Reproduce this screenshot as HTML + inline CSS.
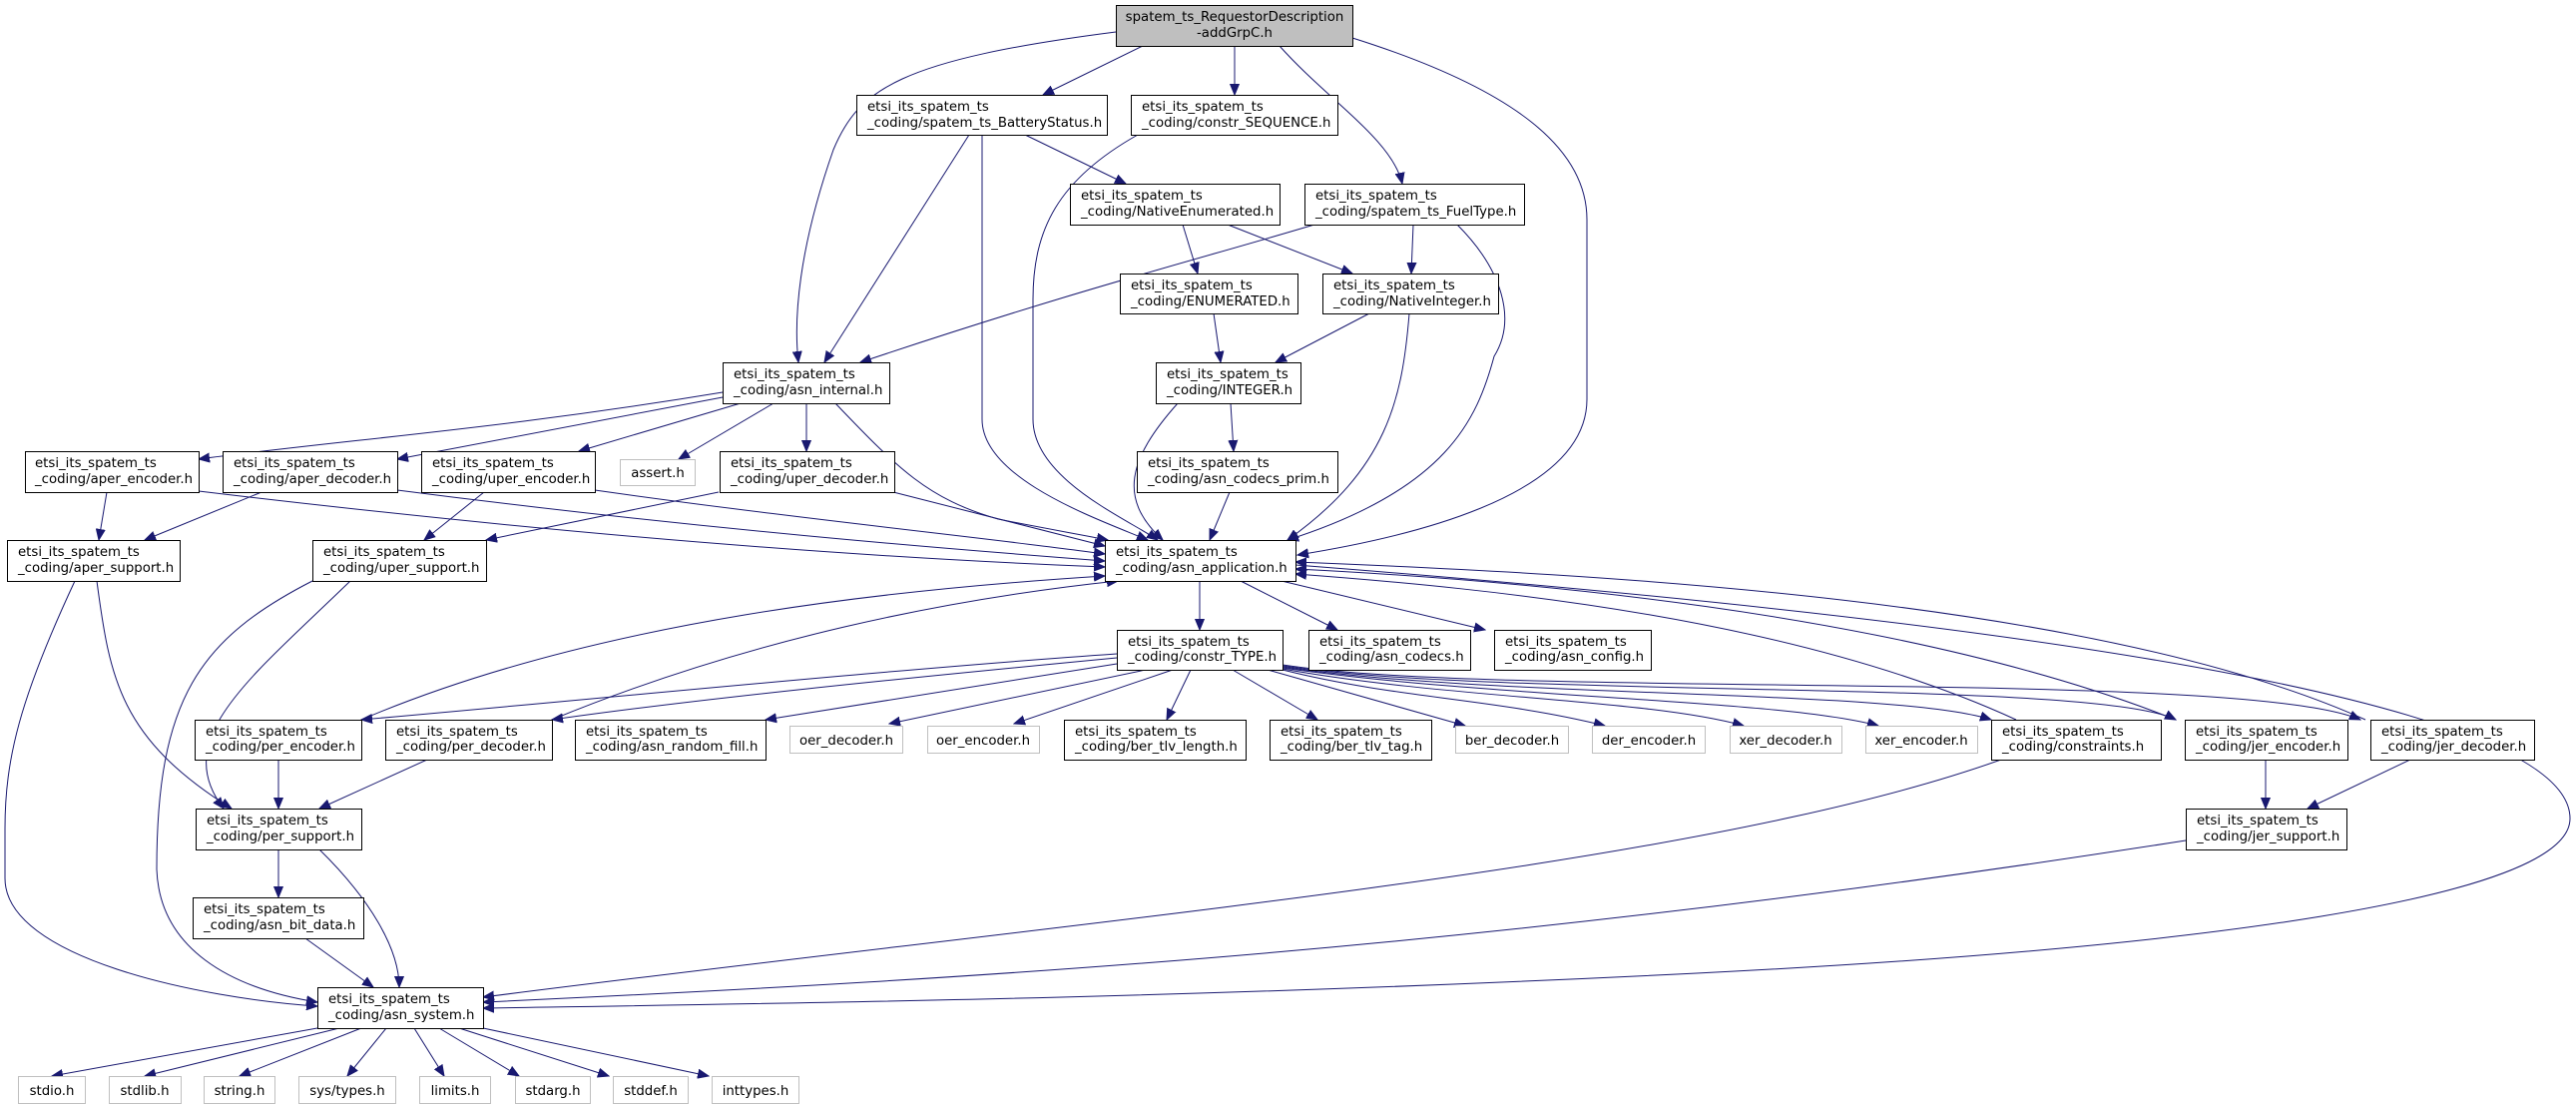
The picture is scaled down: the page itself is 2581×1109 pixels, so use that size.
<!DOCTYPE html>
<html><head><meta charset="utf-8"><style>
html,body{margin:0;padding:0;background:#fff;}
svg{display:block;}
text{font-family:"DejaVu Sans","Liberation Sans",sans-serif;font-size:13.3px;fill:#000;}
.b{fill:#fff;stroke:#000;stroke-width:1;}
.g{fill:#fff;stroke:#bfbfbf;stroke-width:1;}
.e{fill:none;stroke:#191970;stroke-width:1;}
</style></head><body>
<svg width="2581" height="1109" viewBox="0 0 2581 1109" xmlns="http://www.w3.org/2000/svg">
<defs><marker id="a" markerWidth="12" markerHeight="10" refX="11" refY="5" orient="auto" markerUnits="userSpaceOnUse"><path d="M0,0.5 L11,5 L0,9.5 z" fill="#191970" stroke="#191970"/></marker></defs>
<g marker-end="url(#a)">
<path class="e" d="M1145,46 L1045,95"/>
<path class="e" d="M1237,46 L1237,95"/>
<path class="e" d="M1282,46 C1330,100 1395,140 1405,184"/>
<path class="e" d="M1118,32 C900,60 860,90 835,150 C800,250 795,320 800,363"/>
<path class="e" d="M1355,38 C1520,90 1590,150 1590,220 L1590,400 C1590,500 1400,540 1300,556"/>
<path class="e" d="M971,135 L826,363"/>
<path class="e" d="M984,135 L984,420 C984,480 1100,520 1150,541"/>
<path class="e" d="M1027,135 L1128,184"/>
<path class="e" d="M1140,135 C1060,180 1035,230 1035,300 L1035,420 C1035,480 1130,520 1160,541"/>
<path class="e" d="M1185,225 L1200,274"/>
<path class="e" d="M1230,225 L1355,274"/>
<path class="e" d="M1317,225 C1200,260 1080,290 862,363"/>
<path class="e" d="M1416,225 L1414,274"/>
<path class="e" d="M1460,225 C1505,270 1520,320 1497,357 C1480,420 1450,490 1290,541"/>
<path class="e" d="M1216,314 L1223,363"/>
<path class="e" d="M1372,314 L1278,363"/>
<path class="e" d="M1412,314 C1405,400 1390,470 1290,541"/>
<path class="e" d="M1180,404 C1130,460 1120,500 1165,541"/>
<path class="e" d="M1233,404 L1236,452"/>
<path class="e" d="M1232,493 L1212,541"/>
<path class="e" d="M724,393 C500,430 350,440 199,460"/>
<path class="e" d="M724,398 L398,460"/>
<path class="e" d="M742,404 L580,452"/>
<path class="e" d="M775,404 L680,460"/>
<path class="e" d="M808,404 L808,452"/>
<path class="e" d="M837,404 C900,470 930,500 1000,520 C1050,530 1080,535 1110,541"/>
<path class="e" d="M107,493 L99,541"/>
<path class="e" d="M199,492 C600,540 900,560 1107,568"/>
<path class="e" d="M262,493 L145,541"/>
<path class="e" d="M398,491 C700,530 950,550 1107,562"/>
<path class="e" d="M485,493 L425,541"/>
<path class="e" d="M596,491 C800,520 1000,540 1107,555"/>
<path class="e" d="M720,493 L487,541"/>
<path class="e" d="M895,493 L1107,547"/>
<path class="e" d="M97,582 C110,680 120,740 232,810"/>
<path class="e" d="M75,582 C20,700 5,760 5,830 L5,880 C5,960 200,1000 318,1008"/>
<path class="e" d="M351,582 C250,680 170,740 224,810"/>
<path class="e" d="M313,582 C200,640 157,700 157,871 C160,950 230,990 318,1004"/>
<path class="e" d="M1202,582 L1202,631"/>
<path class="e" d="M1243,582 L1340,631"/>
<path class="e" d="M1284,582 L1488,631"/>
<path class="e" d="M1298,566 C2000,620 2575,700 2575,820 C2575,900 2200,950 1700,975 C1200,1000 800,1005 484,1010"/>
<path class="e" d="M1119,655 C900,670 600,700 362,721"/>
<path class="e" d="M1119,659 C900,680 700,700 553,721"/>
<path class="e" d="M1119,665 L767,721"/>
<path class="e" d="M1148,671 L891,725"/>
<path class="e" d="M1175,671 L1016,725"/>
<path class="e" d="M1193,671 L1169,721"/>
<path class="e" d="M1235,671 L1320,721"/>
<path class="e" d="M1270,671 L1468,727"/>
<path class="e" d="M1285,671 C1400,700 1500,700 1608,727"/>
<path class="e" d="M1285,670 C1450,700 1650,700 1747,727"/>
<path class="e" d="M1285,669 C1500,700 1780,700 1882,727"/>
<path class="e" d="M1285,668 C1500,700 1900,690 1995,721"/>
<path class="e" d="M1285,667 C1500,700 2100,680 2180,721"/>
<path class="e" d="M1285,666 C1500,700 2250,670 2365,721"/>
<path class="e" d="M362,721 C600,620 900,590 1107,577"/>
<path class="e" d="M553,721 C750,640 950,600 1120,582"/>
<path class="e" d="M2020,721 C1800,620 1500,590 1298,575"/>
<path class="e" d="M2180,721 C1900,610 1500,580 1298,570"/>
<path class="e" d="M2370,721 C2100,600 1600,575 1298,563"/>
<path class="e" d="M279,761 L279,810"/>
<path class="e" d="M428,761 L320,810"/>
<path class="e" d="M279,851 L279,899"/>
<path class="e" d="M320,851 C370,900 400,950 400,989"/>
<path class="e" d="M306,940 L374,989"/>
<path class="e" d="M2005,761 C1700,870 1100,920 484,999"/>
<path class="e" d="M2270,761 L2270,810"/>
<path class="e" d="M2415,761 L2312,810"/>
<path class="e" d="M2190,842 C1500,950 1000,980 484,1004"/>
<path class="e" d="M318,1030 L52,1078"/>
<path class="e" d="M340,1030 L145,1078"/>
<path class="e" d="M362,1030 L240,1078"/>
<path class="e" d="M387,1030 L348,1078"/>
<path class="e" d="M415,1030 L445,1078"/>
<path class="e" d="M440,1030 L520,1078"/>
<path class="e" d="M460,1030 L610,1078"/>
<path class="e" d="M484,1030 L710,1078"/>
</g>
<!-- root -->
<rect x="1118.5" y="5.5" width="237" height="41" fill="#bfbfbf" stroke="#000"/>
<text x="1237" y="21" text-anchor="middle">spatem_ts_RequestorDescription</text>
<text x="1237" y="37" text-anchor="middle">-addGrpC.h</text>
<!-- two-line black nodes -->
<g>
<rect class="b" x="858.5" y="95.5" width="251" height="40"/><text x="869" y="111">etsi_its_spatem_ts</text><text x="869" y="127">_coding/spatem_ts_BatteryStatus.h</text>
<rect class="b" x="1133.5" y="95.5" width="207" height="40"/><text x="1144" y="111">etsi_its_spatem_ts</text><text x="1144" y="127">_coding/constr_SEQUENCE.h</text>
<rect class="b" x="1072.5" y="184.5" width="210" height="41"/><text x="1083" y="200">etsi_its_spatem_ts</text><text x="1083" y="216">_coding/NativeEnumerated.h</text>
<rect class="b" x="1307.5" y="184.5" width="220" height="41"/><text x="1318" y="200">etsi_its_spatem_ts</text><text x="1318" y="216">_coding/spatem_ts_FuelType.h</text>
<rect class="b" x="1122.5" y="274.5" width="178" height="40"/><text x="1133" y="290">etsi_its_spatem_ts</text><text x="1133" y="306">_coding/ENUMERATED.h</text>
<rect class="b" x="1325.5" y="274.5" width="176" height="40"/><text x="1336" y="290">etsi_its_spatem_ts</text><text x="1336" y="306">_coding/NativeInteger.h</text>
<rect class="b" x="724.5" y="363.5" width="167" height="41"/><text x="735" y="379">etsi_its_spatem_ts</text><text x="735" y="395">_coding/asn_internal.h</text>
<rect class="b" x="1158.5" y="363.5" width="145" height="41"/><text x="1169" y="379">etsi_its_spatem_ts</text><text x="1169" y="395">_coding/INTEGER.h</text>
<rect class="b" x="25.5" y="452.5" width="174" height="41"/><text x="35" y="468">etsi_its_spatem_ts</text><text x="35" y="484">_coding/aper_encoder.h</text>
<rect class="b" x="223.5" y="452.5" width="175" height="41"/><text x="234" y="468">etsi_its_spatem_ts</text><text x="234" y="484">_coding/aper_decoder.h</text>
<rect class="b" x="422.5" y="452.5" width="174" height="41"/><text x="433" y="468">etsi_its_spatem_ts</text><text x="433" y="484">_coding/uper_encoder.h</text>
<rect class="g" x="621.5" y="460.5" width="75" height="26"/><text x="659" y="478" text-anchor="middle">assert.h</text>
<rect class="b" x="721.5" y="452.5" width="175" height="41"/><text x="732" y="468">etsi_its_spatem_ts</text><text x="732" y="484">_coding/uper_decoder.h</text>
<rect class="b" x="1139.5" y="452.5" width="201" height="41"/><text x="1150" y="468">etsi_its_spatem_ts</text><text x="1150" y="484">_coding/asn_codecs_prim.h</text>
<rect class="b" x="7.5" y="541.5" width="173" height="41"/><text x="18" y="557">etsi_its_spatem_ts</text><text x="18" y="573">_coding/aper_support.h</text>
<rect class="b" x="313.5" y="541.5" width="174" height="41"/><text x="324" y="557">etsi_its_spatem_ts</text><text x="324" y="573">_coding/uper_support.h</text>
<rect class="b" x="1107.5" y="541.5" width="191" height="41"/><text x="1118" y="557">etsi_its_spatem_ts</text><text x="1118" y="573">_coding/asn_application.h</text>
<rect class="b" x="1119.5" y="631.5" width="166" height="40"/><text x="1130" y="647">etsi_its_spatem_ts</text><text x="1130" y="662">_coding/constr_TYPE.h</text>
<rect class="b" x="1311.5" y="631.5" width="162" height="40"/><text x="1322" y="647">etsi_its_spatem_ts</text><text x="1322" y="662">_coding/asn_codecs.h</text>
<rect class="b" x="1497.5" y="631.5" width="157" height="40"/><text x="1508" y="647">etsi_its_spatem_ts</text><text x="1508" y="662">_coding/asn_config.h</text>
<rect class="b" x="195.5" y="721.5" width="167" height="40"/><text x="206" y="737">etsi_its_spatem_ts</text><text x="206" y="752">_coding/per_encoder.h</text>
<rect class="b" x="386.5" y="721.5" width="167" height="40"/><text x="397" y="737">etsi_its_spatem_ts</text><text x="397" y="752">_coding/per_decoder.h</text>
<rect class="b" x="576.5" y="721.5" width="191" height="40"/><text x="587" y="737">etsi_its_spatem_ts</text><text x="587" y="752">_coding/asn_random_fill.h</text>
<rect class="g" x="791.5" y="727.5" width="113" height="27"/><text x="848" y="746" text-anchor="middle">oer_decoder.h</text>
<rect class="g" x="929.5" y="727.5" width="112" height="27"/><text x="985" y="746" text-anchor="middle">oer_encoder.h</text>
<rect class="b" x="1066.5" y="721.5" width="182" height="40"/><text x="1077" y="737">etsi_its_spatem_ts</text><text x="1077" y="752">_coding/ber_tlv_length.h</text>
<rect class="b" x="1272.5" y="721.5" width="162" height="40"/><text x="1283" y="737">etsi_its_spatem_ts</text><text x="1283" y="752">_coding/ber_tlv_tag.h</text>
<rect class="g" x="1458.5" y="727.5" width="113" height="27"/><text x="1515" y="746" text-anchor="middle">ber_decoder.h</text>
<rect class="g" x="1595.5" y="727.5" width="113" height="27"/><text x="1652" y="746" text-anchor="middle">der_encoder.h</text>
<rect class="g" x="1733.5" y="727.5" width="112" height="27"/><text x="1789" y="746" text-anchor="middle">xer_decoder.h</text>
<rect class="g" x="1869.5" y="727.5" width="112" height="27"/><text x="1925" y="746" text-anchor="middle">xer_encoder.h</text>
<rect class="b" x="1995.5" y="721.5" width="170" height="40"/><text x="2006" y="737">etsi_its_spatem_ts</text><text x="2006" y="752">_coding/constraints.h</text>
<rect class="b" x="2189.5" y="721.5" width="163" height="40"/><text x="2200" y="737">etsi_its_spatem_ts</text><text x="2200" y="752">_coding/jer_encoder.h</text>
<rect class="b" x="2375.5" y="721.5" width="164" height="40"/><text x="2386" y="737">etsi_its_spatem_ts</text><text x="2386" y="752">_coding/jer_decoder.h</text>
<rect class="b" x="196.5" y="810.5" width="166" height="41"/><text x="207" y="826">etsi_its_spatem_ts</text><text x="207" y="842">_coding/per_support.h</text>
<rect class="b" x="2190.5" y="810.5" width="161" height="41"/><text x="2201" y="826">etsi_its_spatem_ts</text><text x="2201" y="842">_coding/jer_support.h</text>
<rect class="b" x="193.5" y="899.5" width="171" height="41"/><text x="204" y="915">etsi_its_spatem_ts</text><text x="204" y="931">_coding/asn_bit_data.h</text>
<rect class="b" x="318.5" y="989.5" width="166" height="41"/><text x="329" y="1005">etsi_its_spatem_ts</text><text x="329" y="1021">_coding/asn_system.h</text>
</g>
<g>
<rect class="g" x="18.5" y="1078.5" width="67" height="27"/><text x="52" y="1097" text-anchor="middle">stdio.h</text>
<rect class="g" x="109.5" y="1078.5" width="72" height="27"/><text x="145" y="1097" text-anchor="middle">stdlib.h</text>
<rect class="g" x="204.5" y="1078.5" width="71" height="27"/><text x="240" y="1097" text-anchor="middle">string.h</text>
<rect class="g" x="299.5" y="1078.5" width="97" height="27"/><text x="348" y="1097" text-anchor="middle">sys/types.h</text>
<rect class="g" x="420.5" y="1078.5" width="71" height="27"/><text x="456" y="1097" text-anchor="middle">limits.h</text>
<rect class="g" x="516.5" y="1078.5" width="75" height="27"/><text x="554" y="1097" text-anchor="middle">stdarg.h</text>
<rect class="g" x="614.5" y="1078.5" width="75" height="27"/><text x="652" y="1097" text-anchor="middle">stddef.h</text>
<rect class="g" x="713.5" y="1078.5" width="87" height="27"/><text x="757" y="1097" text-anchor="middle">inttypes.h</text>
</g>
</svg>
</body></html>
